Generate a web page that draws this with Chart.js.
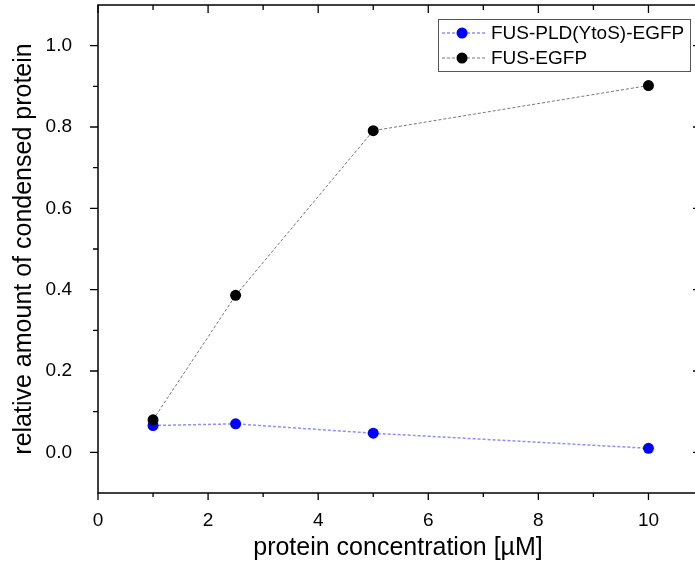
<!DOCTYPE html>
<html>
<head>
<meta charset="utf-8">
<script src="https://cdn.jsdelivr.net/npm/chart.js@4.4.1/dist/chart.umd.min.js"></script>
<style>
  html, body { margin: 0; padding: 0; background: #fff; overflow: hidden; }
  #wrap { width: 698px; height: 575px; }
</style>
</head>
<body>
<div id="wrap"><canvas id="chart" width="698" height="575"></canvas></div>
<script>
const concentration = [1, 2.5, 5, 10];
const ytosValues = [0.066, 0.070, 0.047, 0.010];
const fusValues = [0.080, 0.386, 0.791, 0.902];

const xMajor = [0, 2, 4, 6, 8, 10];
const xMinor = [1, 3, 5, 7, 9];
const yMajor = [0, 0.2, 0.4, 0.6, 0.8, 1.0];
const yMinor = [0.1, 0.3, 0.5, 0.7, 0.9];

const FONT = 'Liberation Sans, Arial, sans-serif';

// frame + inward/outward ticks the way Origin draws them
const framePlugin = {
  id: 'frame',
  afterDraw(chart) {
    const { ctx, chartArea: a } = chart;
    const xs = chart.scales.x, ys = chart.scales.y;
    ctx.save();
    ctx.strokeStyle = '#000';
    ctx.lineWidth = 1.5;
    ctx.strokeRect(a.left, a.top, a.right - a.left, a.bottom - a.top);
    ctx.lineWidth = 1.3;
    ctx.beginPath();
    const tick = (x1, y1, x2, y2) => { ctx.moveTo(x1, y1); ctx.lineTo(x2, y2); };
    xMajor.forEach(v => {
      const px = xs.getPixelForValue(v);
      tick(px, a.bottom, px, a.bottom + 7);
      tick(px, a.top, px, a.top + 8);
    });
    xMinor.forEach(v => {
      const px = xs.getPixelForValue(v);
      tick(px, a.bottom, px, a.bottom + 4);
      tick(px, a.top, px, a.top + 5);
    });
    yMajor.forEach(v => {
      const py = ys.getPixelForValue(v);
      tick(a.left, py, a.left - 8, py);
      tick(a.right, py, a.right - 5, py);
    });
    yMinor.forEach(v => {
      const py = ys.getPixelForValue(v);
      tick(a.left, py, a.left - 5, py);
      tick(a.right, py, a.right - 3, py);
    });
    ctx.stroke();
    ctx.restore();
  }
};

// boxed legend in the upper right corner
const legendPlugin = {
  id: 'boxLegend',
  afterDraw(chart) {
    const ctx = chart.ctx;
    const box = { x: 438, y: 19, w: 252, h: 52 };
    ctx.save();
    ctx.fillStyle = '#fff';
    ctx.fillRect(box.x, box.y, box.w, box.h);
    ctx.strokeStyle = '#555';
    ctx.lineWidth = 1;
    ctx.strokeRect(box.x + 0.5, box.y + 0.5, box.w, box.h);
    chart.data.datasets.forEach((ds, i) => {
      const cy = box.y + 14 + i * 25;
      ctx.strokeStyle = ds.borderColor;
      ctx.lineWidth = ds.borderWidth;
      ctx.setLineDash(ds.borderDash);
      ctx.beginPath();
      ctx.moveTo(box.x + 4, cy);
      ctx.lineTo(box.x + 47, cy);
      ctx.stroke();
      ctx.setLineDash([]);
      ctx.fillStyle = ds.pointBackgroundColor;
      ctx.beginPath();
      ctx.arc(box.x + 24, cy, ds.pointRadius, 0, Math.PI * 2);
      ctx.fill();
      ctx.fillStyle = '#000';
      ctx.font = '19px ' + FONT;
      ctx.textBaseline = 'middle';
      ctx.fillText(ds.label, box.x + 53, cy + 1);
    });
    ctx.restore();
  }
};

function toXY(xs, ys) {
  return xs.map((x, i) => ({ x: x, y: ys[i] }));
}

function noPad(s) {
  s.paddingTop = 0; s.paddingBottom = 0; s.paddingLeft = 0; s.paddingRight = 0;
}

const ctx = document.getElementById('chart').getContext('2d');
new Chart(ctx, {
  type: 'line',
  data: {
    datasets: [
      {
        label: 'FUS-PLD(YtoS)-EGFP',
        data: toXY(concentration, ytosValues),
        borderColor: '#8f8fff', borderWidth: 1.5, borderDash: [3, 2],
        pointBackgroundColor: '#0000ff', pointBorderWidth: 0, pointRadius: 5.5,
        tension: 0, order: 2,
      },
      {
        label: 'FUS-EGFP',
        data: toXY(concentration, fusValues),
        borderColor: '#777777', borderWidth: 1, borderDash: [3, 2],
        pointBackgroundColor: '#000000', pointBorderWidth: 0, pointRadius: 5.5,
        tension: 0, order: 1,
      },
    ],
  },
  options: {
    responsive: false,
    animation: false,
    layout: { autoPadding: false, padding: { top: 5, right: 0, left: 0, bottom: 0 } },
    plugins: { legend: { display: false }, tooltip: { enabled: false } },
    scales: {
      x: {
        type: 'linear', min: 0, max: 10.9,
        afterBuildTicks: (s) => { s.ticks = xMajor.map(v => ({ value: v })); },
        afterFit: (s) => { s.height = 82; noPad(s); },
        grid: { display: false },
        border: { display: false },
        ticks: { color: '#000', font: { family: FONT, size: 19 }, padding: 8, maxRotation: 0 },
        title: { display: true, text: 'protein concentration [µM]', color: '#000',
                 font: { family: FONT, size: 25 }, padding: { bottom: 12 } },
      },
      y: {
        type: 'linear', min: -0.1, max: 1.1,
        afterBuildTicks: (s) => { s.ticks = yMajor.map(v => ({ value: v })); },
        afterFit: (s) => { s.width = 98; noPad(s); },
        grid: { display: false },
        border: { display: false },
        ticks: { color: '#000', font: { family: FONT, size: 19 }, padding: 18,
                 callback: (v) => v.toFixed(1) },
        title: { display: true, text: 'relative amount of condensed protein', color: '#000',
                 font: { family: FONT, size: 25 }, padding: { top: 9 } },
      },
    },
  },
  plugins: [framePlugin, legendPlugin],
});
</script>
</body>
</html>
